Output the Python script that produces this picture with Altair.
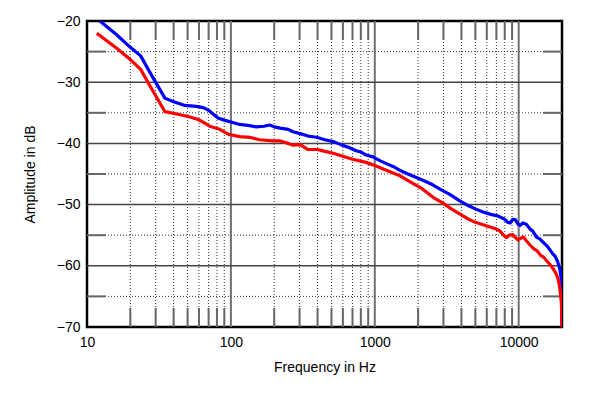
import altair as alt
import pandas as pd

# --- data ---
blue_freq = [12.3, 16, 20, 23.6, 28, 34.8, 40, 47.9, 55, 59.3, 65, 70, 76, 82, 90, 100, 115, 135, 150, 170,
             186, 200, 220, 250, 270, 303, 344, 394, 450, 513, 580, 668, 741, 800, 870, 970, 1100, 1205, 1350,
             1497, 1700, 2000, 2300, 2540, 2900, 3300, 3890, 4400, 5000, 5650, 6400, 7000, 7380, 8000, 8400,
             8720, 9100, 9500, 9900, 10200, 10700, 11300, 12000, 12500, 13300, 14000, 15000, 15800, 16500,
             17200, 18000, 18700, 19300, 19600, 19850, 20000]
blue_amp = [-20.0, -22.2, -24.3, -25.7, -28.8, -32.6, -33.2, -33.8, -33.9, -34.0, -34.2, -34.6, -35.3, -35.9,
            -36.2, -36.5, -36.9, -37.1, -37.3, -37.2, -37.0, -37.3, -37.5, -37.7, -38.1, -38.4, -38.8, -39.0,
            -39.4, -39.7, -40.2, -40.7, -41.2, -41.4, -41.9, -42.2, -42.9, -43.3, -43.8, -44.4, -45.0, -45.7,
            -46.3, -46.8, -47.6, -48.3, -49.4, -50.1, -50.7, -51.2, -51.6, -51.8, -52.0, -52.4, -52.9, -53.0,
            -52.4, -52.5, -53.2, -53.4, -53.0, -53.2, -54.0, -54.3, -55.3, -55.6, -56.3, -56.8, -57.4, -58.0,
            -58.5, -59.4, -60.5, -61.5, -63.5, -70.0]

red_freq = [11.7, 16, 20, 23.6, 28, 34.8, 42, 50.5, 59.3, 65, 71.3, 83.6, 95.8, 115, 135, 158, 196, 220, 250,
            271, 303, 344, 400, 450, 513, 600, 700, 870, 1000, 1200, 1497, 1800, 2100, 2540, 3000, 3400, 3890,
            4500, 5000, 5650, 6400, 7000, 7380, 7800, 8200, 8600, 9100, 9500, 9900, 10300, 10800, 11300, 12000,
            12700, 13500, 14200, 14900, 15800, 16800, 17500, 18200, 18700, 19100, 19500, 19800, 20000]
red_amp = [-22.0, -24.4, -26.3, -27.9, -31.0, -34.8, -35.2, -35.6, -36.1, -36.6, -37.2, -37.7, -38.5, -38.9,
           -39.0, -39.4, -39.6, -39.6, -40.0, -40.3, -40.2, -41.0, -41.0, -41.3, -41.6, -42.1, -42.6, -43.1,
           -43.6, -44.4, -45.3, -46.4, -47.3, -48.8, -49.8, -50.7, -51.5, -52.4, -52.9, -53.3, -53.7, -54.0,
           -54.3, -54.9, -55.4, -55.0, -54.9, -55.4, -55.8, -55.5, -55.3, -55.9, -56.6, -57.2, -57.6, -58.3,
           -58.6, -59.3, -60.0, -60.6, -61.3, -62.0, -62.9, -64.5, -66.0, -70.0]

x_major = [100, 1000, 10000]
x_minor = [m * d for d in (10, 100, 1000) for m in range(2, 10)]
y_major = [-30, -40, -50, -60]
y_minor = [-25, -35, -45, -55, -65]
x_labels = [10, 100, 1000, 10000]
y_labels = [-70, -60, -50, -40, -30, -20]

W, H = 475, 306
FONT = "Liberation Sans"

xscale = alt.Scale(type="log", domain=[10, 20000], nice=False)
yscale = alt.Scale(domain=[-70, -20], nice=False, zero=False)

curves = pd.concat([
    pd.DataFrame({"f": blue_freq, "a": blue_amp, "s": "B", "o": range(len(blue_freq))}),
    pd.DataFrame({"f": red_freq, "a": red_amp, "s": "R", "o": range(len(red_freq))}),
])
xmin_df = pd.DataFrame({"f": x_minor})
xmaj_df = pd.DataFrame({"f": x_major})
ymin_df = pd.DataFrame({"a": y_minor})
ymaj_df = pd.DataFrame({"a": y_major})

xaxis = alt.Axis(values=x_labels, format="d", grid=False, ticks=False, domain=False,
                 labelFontSize=14, labelFont=FONT, labelColor="black", labelPadding=8,
                 titleFont=FONT, titleFontSize=14, titleFontWeight="normal", titleColor="black",
                 titlePadding=11, labelFlush=False)
yaxis = alt.Axis(values=y_labels, grid=False, ticks=False, domain=False,
                 labelFontSize=14, labelFont=FONT, labelColor="black", labelPadding=7,
                 titleFont=FONT, titleFontSize=14, titleFontWeight="normal", titleColor="black",
                 titlePadding=19, labelFlush=False)
X = alt.X("f:Q", scale=xscale, title="Frequency in Hz", axis=xaxis)
Y = alt.Y("a:Q", scale=yscale, title="Amplitude in dB", axis=yaxis)

minor_v = alt.Chart(xmin_df).mark_rule(color="#333", strokeWidth=1, strokeDash=[1, 2]).encode(
    x=X, y=alt.value(0), y2=alt.value(H))
minor_h = alt.Chart(ymin_df).mark_rule(color="#333", strokeWidth=1, strokeDash=[1, 2]).encode(
    y=Y, x=alt.value(0), x2=alt.value(W))
tick_v_top = alt.Chart(xmin_df).mark_rule(color="#666", strokeWidth=2).encode(
    x=X, y=alt.value(0), y2=alt.value(19))
tick_v_bot = alt.Chart(xmin_df).mark_rule(color="#666", strokeWidth=2).encode(
    x=X, y=alt.value(H - 19), y2=alt.value(H))
tick_h_left = alt.Chart(ymin_df).mark_rule(color="#666", strokeWidth=2).encode(
    y=Y, x=alt.value(0), x2=alt.value(19))
tick_h_right = alt.Chart(ymin_df).mark_rule(color="#666", strokeWidth=2).encode(
    y=Y, x=alt.value(W - 19), x2=alt.value(W))
major_v = alt.Chart(xmaj_df).mark_rule(color="#707070", strokeWidth=2).encode(
    x=X, y=alt.value(0), y2=alt.value(H))
major_h = alt.Chart(ymaj_df).mark_rule(color="#444", strokeWidth=1.5).encode(
    y=Y, x=alt.value(0), x2=alt.value(W))

lines = alt.Chart(curves).mark_line(strokeWidth=3.2, clip=True, strokeJoin="round").encode(
    x=X, y=Y, order="o:Q",
    color=alt.Color("s:N", scale=alt.Scale(domain=["B", "R"], range=["#0000ff", "#ff0000"]), legend=None))

chart = alt.layer(minor_v, minor_h, tick_v_top, tick_v_bot, tick_h_left, tick_h_right,
                  major_v, major_h, lines).properties(
    width=W, height=H,
    autosize=alt.AutoSizeParams(type="none"),
    padding={"left": 79, "top": 13, "right": 30, "bottom": 60},
    background="white",
).configure_view(stroke="black", strokeWidth=2.5)

chart.save("out.html", embed_options={"renderer": "svg", "actions": False})
